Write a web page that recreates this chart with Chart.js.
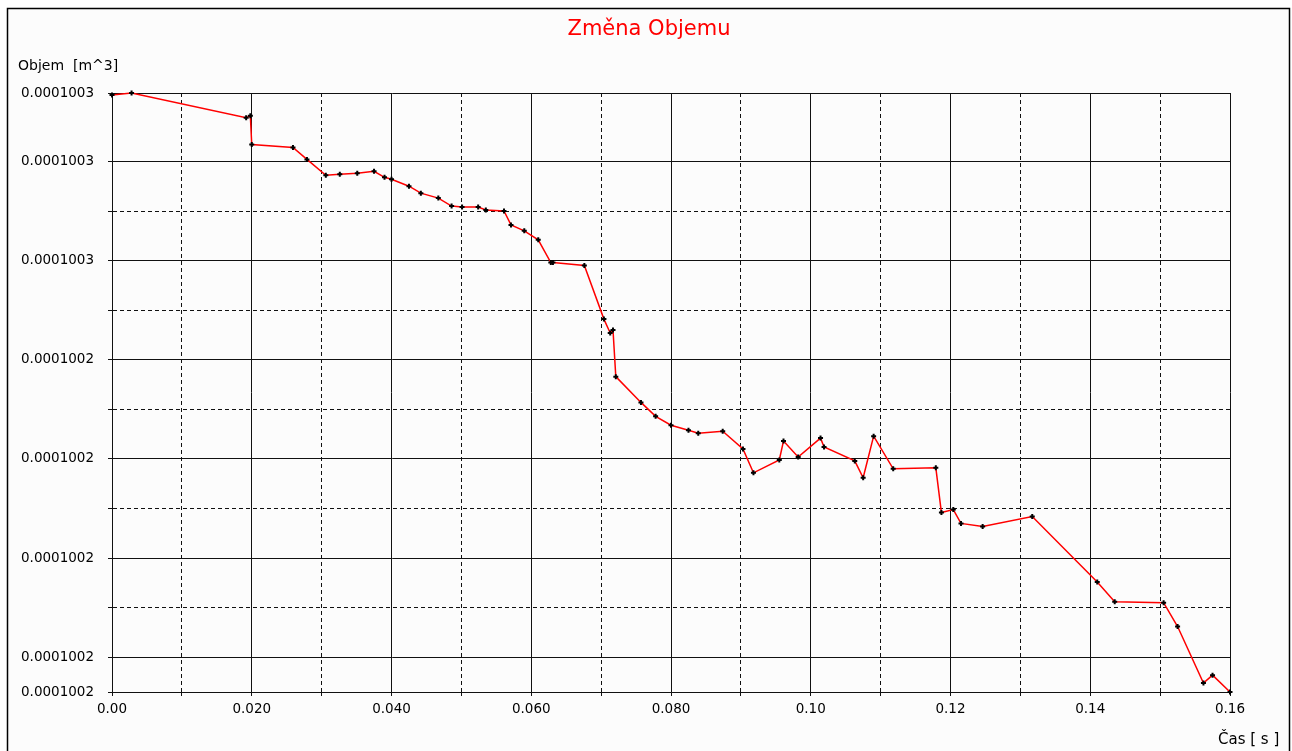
<!DOCTYPE html>
<html>
<head>
<meta charset="utf-8">
<script src="https://cdn.jsdelivr.net/npm/chart.js@4/dist/chart.umd.min.js"></script>
<style>
  html, body { margin: 0; padding: 0; background: #fff; }
  #wrap { width: 1292px; height: 751px; position: relative; }
</style>
</head>
<body>
<div id="wrap"><canvas id="objem"></canvas></div>
<script>
// time [s]
const casS = [
    0, 0.0028, 0.0192, 0.0198, 0.0200, 0.0259, 0.0279, 0.0306, 0.0326, 0.0351,
    0.0375, 0.0390, 0.0400, 0.0425, 0.0442, 0.0467, 0.0486, 0.0501, 0.0524, 0.0535,
    0.0561, 0.0571, 0.0590, 0.0610, 0.0628, 0.0631, 0.0676, 0.0704, 0.0713, 0.0717,
    0.0721, 0.0757, 0.0778, 0.0800, 0.0825, 0.0839, 0.0874, 0.0903, 0.0918, 0.0955,
    0.0961, 0.0982, 0.1014, 0.1019, 0.1063, 0.1075, 0.1090, 0.1118, 0.1179, 0.1187,
    0.1204, 0.1215, 0.1246, 0.1317, 0.1410, 0.1435, 0.1505, 0.1525, 0.1562, 0.1575,
    0.1600
];
// volume [m^3]
const objem = [
    1.0025217e-4, 1.0025219e-4, 1.0025194e-4, 1.0025196e-4, 1.0025167e-4, 1.0025164e-4, 1.0025152e-4, 1.0025136e-4, 1.0025137e-4, 1.0025138e-4,
    1.0025140e-4, 1.0025134e-4, 1.0025132e-4, 1.0025125e-4, 1.0025118e-4, 1.0025113e-4, 1.0025105e-4, 1.0025104e-4, 1.0025104e-4, 1.0025101e-4,
    1.0025100e-4, 1.0025086e-4, 1.0025080e-4, 1.0025071e-4, 1.0025048e-4, 1.0025048e-4, 1.0025045e-4, 1.0024991e-4, 1.0024977e-4, 1.0024980e-4,
    1.0024933e-4, 1.0024907e-4, 1.0024893e-4, 1.0024884e-4, 1.0024879e-4, 1.0024876e-4, 1.0024878e-4, 1.0024860e-4, 1.0024836e-4, 1.0024849e-4,
    1.0024868e-4, 1.0024852e-4, 1.0024871e-4, 1.0024862e-4, 1.0024848e-4, 1.0024831e-4, 1.0024873e-4, 1.0024840e-4, 1.0024841e-4, 1.0024796e-4,
    1.0024799e-4, 1.0024785e-4, 1.0024782e-4, 1.0024792e-4, 1.0024726e-4, 1.0024706e-4, 1.0024705e-4, 1.0024681e-4, 1.0024624e-4, 1.0024632e-4,
    1.0024615e-4
];

const xTicks = [0, 0.01, 0.02, 0.03, 0.04, 0.05, 0.06, 0.07, 0.08, 0.09, 0.10, 0.11, 0.12, 0.13, 0.14, 0.15, 0.16];
const xTickLabels = ['0.00', '', '0.020', '', '0.040', '', '0.060', '', '0.080', '', '0.10', '', '0.12', '', '0.14', '', '0.16'];

const yTicks = [
    1.0024615e-4, 1.002465e-4, 1.00247e-4, 1.002475e-4, 1.00248e-4, 1.002485e-4, 1.00249e-4,
    1.002495e-4, 1.0025e-4, 1.002505e-4, 1.00251e-4, 1.002515e-4, 1.0025219e-4
];
const yTickLabels = [
    '0.0001002', '0.0001002', '', '0.0001002', '', '0.0001002', '', '0.0001002', '', '0.0001003', '', '0.0001003', '0.0001003'
];

const FONT = 'DejaVu Sans';
Chart.defaults.font.family = FONT;
Chart.defaults.color = '#000';

// frame, title and the two axis captions
const framePlugin = {
    id: 'frame',
    beforeDraw(chart) {
        const ctx = chart.ctx;
        ctx.save();
        ctx.fillStyle = '#fff';
        ctx.fillRect(0, 0, chart.width, chart.height);
        ctx.fillStyle = '#fcfcfc';
        ctx.fillRect(8, 9, 1281, 760);
        ctx.strokeStyle = '#000';
        ctx.lineWidth = 1.5;
        ctx.strokeRect(7.5, 8.5, 1282, 770);
        ctx.restore();
    },
    afterDraw(chart) {
        const ctx = chart.ctx;
        ctx.save();
        ctx.textBaseline = 'middle';
        ctx.textAlign = 'center';
        ctx.fillStyle = '#ff0000';
        ctx.font = '21px ' + FONT;
        ctx.fillText('Změna Objemu', 649, 30);
        ctx.fillStyle = '#000';
        ctx.textAlign = 'left';
        ctx.font = '14px ' + FONT;
        ctx.fillText('Objem  [m^3]', 18, 66);
        ctx.font = '15px ' + FONT;
        ctx.fillText('Čas [ s ]', 1218, 740);
        ctx.restore();
    }
};

const isMinor = (labels, c) => c.tick !== undefined && labels[c.index] === '';

const config = {
    type: 'line',
    data: {
        datasets: [{
            label: 'Objem',
            data: casS.map((t, i) => ({x: t, y: objem[i]})),
            borderColor: '#ff0000',
            borderWidth: 1.5,
            tension: 0,
            pointStyle: 'cross',
            pointRadius: 2.5,
            pointBorderWidth: 2,
            pointBorderColor: '#000',
            pointBackgroundColor: '#000',
            clip: 4
        }]
    },
    options: {
        responsive: true,
        maintainAspectRatio: false,
        animation: false,
        layout: {
            padding: {left: 0, right: 62, top: 93, bottom: 0}
        },
        plugins: {
            legend: {display: false},
            tooltip: {enabled: false},
            title: {display: false}
        },
        scales: {
            x: {
                type: 'linear',
                min: 0,
                max: 0.16,
                afterBuildTicks: axis => { axis.ticks = xTicks.map(v => ({value: v})); },
                afterFit: axis => { axis.height = 59; },
                ticks: {
                    autoSkip: false,
                    maxRotation: 0,
                    padding: 5,
                    font: {size: 13.5},
                    color: '#000',
                    callback: (v, i) => xTickLabels[i]
                },
                grid: {
                    color: '#111',
                    lineWidth: 1,
                    tickLength: 4,
                    tickColor: '#111'
                },
                border: {
                    display: true,
                    color: '#111',
                    width: 1,
                    dash: c => isMinor(xTickLabels, c) ? [4, 3] : []
                }
            },
            y: {
                type: 'linear',
                min: yTicks[0],
                max: yTicks[yTicks.length - 1],
                afterBuildTicks: axis => { axis.ticks = yTicks.map(v => ({value: v})); },
                afterFit: axis => { axis.width = 112; },
                ticks: {
                    autoSkip: false,
                    padding: 14,
                    font: {size: 13.5},
                    color: '#000',
                    callback: (v, i) => yTickLabels[i]
                },
                grid: {
                    color: '#111',
                    lineWidth: 1,
                    tickLength: 4,
                    tickColor: '#111'
                },
                border: {
                    display: true,
                    color: '#111',
                    width: 1,
                    dash: c => isMinor(yTickLabels, c) ? [4, 3] : []
                }
            }
        }
    },
    plugins: [framePlugin]
};

const chart = new Chart(document.getElementById('objem'), config);
</script>
</body>
</html>
